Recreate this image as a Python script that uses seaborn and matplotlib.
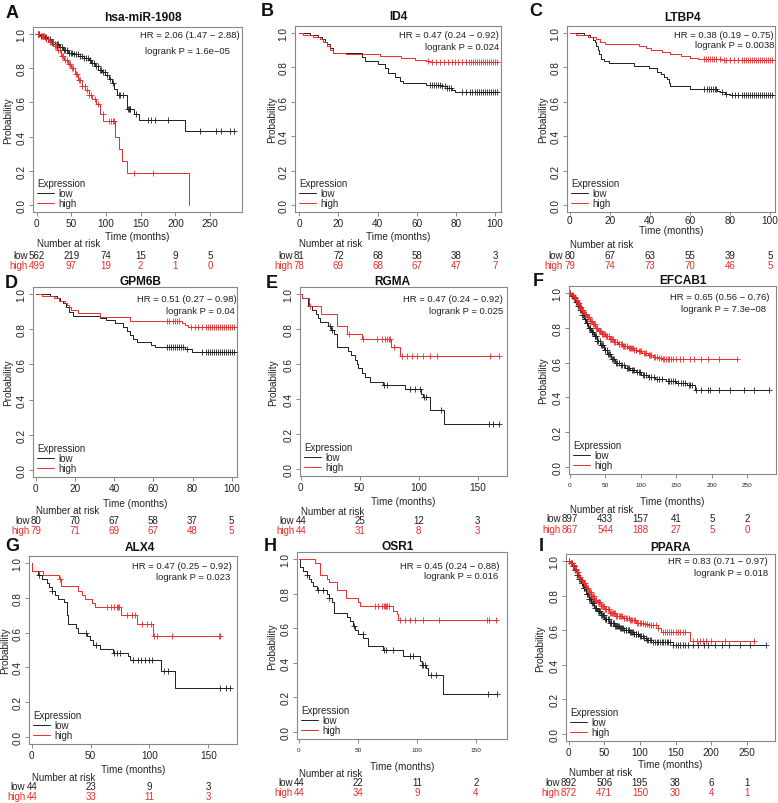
# ============================================================
# km_panels.py — Kaplan-Meier survival, 9 candidate genes
# ============================================================
# 3x3 grid, each panel: low vs high expression step curves,
# censor ticks, HR / logrank text and a number-at-risk table.

import numpy as np
import matplotlib
matplotlib.use("Agg")
import matplotlib.pyplot as plt
import seaborn as sns
from matplotlib.lines import Line2D
from matplotlib.transforms import blended_transform_factory

# ---------------- A  hsa-miR-1908 ----------------
a_low_t = [0, 5, 10, 15, 20, 26, 32, 38, 45, 52, 60, 68, 75, 79, 84, 89, 94, 99, 104, 108, 112, 116, 130, 141, 148, 214, 285]
a_low_s = [1.0, 0.99, 0.98, 0.97, 0.955, 0.94, 0.925, 0.905, 0.89, 0.88, 0.868, 0.858, 0.85, 0.83, 0.81, 0.79, 0.775, 0.76, 0.735, 0.715, 0.68, 0.645, 0.56, 0.535, 0.495, 0.435, 0.435]
a_low_cens = [2, 4, 6, 9, 12, 14, 17, 19, 22, 24, 27, 29, 31, 34, 36, 39, 41, 44, 46, 49, 51, 54, 56, 59, 62, 65, 68, 71, 74, 77,
              80, 83, 86, 88, 91, 93, 96, 98, 101, 105, 110, 118, 120, 124, 132, 133, 134, 135, 143, 161, 165, 170, 189, 235, 258, 266, 278, 285]
a_high_t = [0, 6, 12, 18, 24, 30, 35, 40, 45, 50, 55, 60, 65, 70, 75, 80, 86, 91, 96, 113, 118, 123, 130, 219]
a_high_s = [1.0, 0.985, 0.97, 0.95, 0.93, 0.905, 0.87, 0.85, 0.825, 0.80, 0.765, 0.73, 0.695, 0.67, 0.645, 0.62, 0.59, 0.53, 0.49, 0.40, 0.33, 0.26, 0.19, 0.0]
a_high_cens = [2, 4, 7, 9, 11, 14, 16, 19, 21, 23, 26, 28, 31, 33, 36, 38, 41, 43, 46, 48, 51, 53, 56, 58, 61, 63, 66, 69, 72, 75,
               78, 84, 88, 95, 104, 107, 110, 112, 140, 168]
a_risk_t = [0, 50, 100, 150, 200, 250]
a_risk_low = [562, 219, 74, 15, 9, 5]
a_risk_high = [499, 97, 19, 2, 1, 0]

# ---------------- B  ID4 ----------------
b_low_t = [0, 5.5, 9.7, 11.4, 13, 14, 15.7, 17.4, 32, 33.6, 40, 43.8, 45.5, 49, 51.5, 53, 65, 72.7, 75.5, 78, 79.5, 102]
b_low_s = [1.0, 0.987, 0.975, 0.962, 0.95, 0.937, 0.911, 0.886, 0.861, 0.835, 0.82, 0.795, 0.77, 0.745, 0.72, 0.71, 0.70, 0.69, 0.68, 0.667, 0.655, 0.655]
b_low_cens = [67, 68, 69, 70, 71, 72, 73, 74.5, 75.5, 76.5, 77.5, 83, 85, 87, 88.5, 90, 91, 92, 93, 94, 95, 96, 97, 98, 99, 100, 101]
b_high_t = [0, 2, 7, 10.5, 12.3, 14, 15.7, 17.4, 24, 41, 52, 59, 65, 67, 102]
b_high_s = [1.0, 0.987, 0.975, 0.962, 0.95, 0.925, 0.90, 0.885, 0.877, 0.867, 0.855, 0.845, 0.835, 0.83, 0.83]
b_high_cens = [66, 68, 70, 72, 74, 76, 78, 79.5, 81, 83, 85, 86.5, 88, 89, 90, 91, 92, 93, 94, 95, 96, 97, 98, 99, 100, 101]
b_risk_t = [0, 20, 40, 60, 80, 100]
b_risk_low = [81, 72, 68, 58, 38, 3]
b_risk_high = [78, 69, 68, 67, 47, 7]

# ---------------- C  LTBP4 ----------------
c_low_t = [0, 7.4, 10, 11.6, 12.7, 13.2, 14, 14.9, 15.7, 17, 19.8, 32, 39.7, 43.8, 45.5, 47, 48.5, 49.6, 50.4, 60.3, 73.5, 75.2, 77.7, 80, 102]
c_low_s = [1.0, 0.99, 0.975, 0.96, 0.945, 0.925, 0.90, 0.875, 0.85, 0.837, 0.825, 0.81, 0.795, 0.775, 0.76, 0.745, 0.73, 0.71, 0.69, 0.677, 0.665, 0.655, 0.645, 0.64, 0.64]
c_low_cens = [67, 68.5, 69.5, 70.5, 71.5, 72.5, 73, 76, 78, 81, 82.5, 84, 86, 87, 88, 89, 90, 91, 92, 93, 94, 95, 96, 97, 98, 99, 100, 101]
c_high_t = [0, 3, 9, 13, 15, 17.7, 34.7, 38, 40.5, 46, 50, 55.5, 60, 64, 76, 102]
c_high_s = [1.0, 0.987, 0.975, 0.962, 0.95, 0.937, 0.925, 0.912, 0.90, 0.887, 0.875, 0.865, 0.857, 0.85, 0.843, 0.843]
c_high_cens = [67, 68, 69, 70, 71, 72, 73, 75, 77, 78, 80, 82, 84, 86, 87, 88, 89, 90, 91, 92, 93, 94, 95, 96, 97, 98, 99, 100, 101]
c_risk_t = [0, 20, 40, 60, 80, 100]
c_risk_low = [80, 67, 63, 55, 39, 5]
c_risk_high = [79, 74, 73, 70, 46, 5]

# ---------------- D  GPM6B ----------------
d_low_t = [0, 7.2, 11, 12.5, 14, 15.5, 17, 18.7, 32.7, 36, 40.4, 44.6, 46.3, 48, 49.7, 51.4, 59, 60.8, 76, 79.5, 102]
d_low_s = [1.0, 0.987, 0.975, 0.962, 0.95, 0.925, 0.90, 0.875, 0.862, 0.85, 0.835, 0.81, 0.79, 0.77, 0.745, 0.725, 0.71, 0.70, 0.69, 0.673, 0.673]
d_low_cens = [67, 68, 69, 70, 71, 72, 73, 74, 75, 77, 85, 87, 88, 89, 90, 91, 92, 93, 94, 95, 96, 97, 98, 99, 100, 101]
d_high_t = [0, 3, 9, 12, 14.8, 16, 17, 18, 21.6, 32.7, 48, 74.4, 76, 77.5, 102]
d_high_s = [1.0, 0.987, 0.975, 0.962, 0.95, 0.937, 0.925, 0.91, 0.895, 0.87, 0.847, 0.835, 0.822, 0.815, 0.815]
d_high_cens = [67, 68, 70, 71, 72, 73, 79, 81, 83, 85, 87, 88, 89, 90, 91, 92, 93, 94, 95, 96, 97, 98, 99, 100, 101]
d_risk_t = [0, 20, 40, 60, 80, 100]
d_risk_low = [80, 70, 67, 58, 37, 5]
d_risk_high = [79, 71, 69, 67, 48, 5]

# ---------------- E  RGMA ----------------
e_low_t = [0, 1, 6.5, 10, 13, 15, 16.5, 23.5, 26, 28, 30.5, 31, 40.5, 43, 46, 47.5, 49, 52, 54.6, 59, 70, 88.6, 102, 104, 110, 121.7, 168]
e_low_s = [1.0, 0.977, 0.932, 0.909, 0.886, 0.864, 0.841, 0.818, 0.795, 0.773, 0.75, 0.70, 0.675, 0.65, 0.625, 0.60, 0.575, 0.55, 0.525, 0.50, 0.48, 0.455, 0.43, 0.41, 0.34, 0.255, 0.255]
e_low_cens = [24.5, 26.5, 71, 73, 93, 97, 101, 104.5, 106, 119, 160, 163, 168]
e_high_t = [0, 1, 7.4, 17.3, 31, 39.6, 51.8, 77, 84, 168]
e_high_s = [1.0, 0.977, 0.932, 0.886, 0.818, 0.773, 0.745, 0.70, 0.645, 0.645]
e_high_cens = [8, 41, 53, 64.5, 69, 71.5, 73, 74.5, 76, 79, 86, 90, 94, 98.5, 104, 110, 116, 161, 168]
e_risk_t = [0, 50, 100, 150]
e_risk_low = [44, 25, 12, 3]
e_risk_high = [44, 31, 8, 3]

# ---------------- F  EFCAB1 ----------------
f_low_t = [0, 2, 5, 8, 11, 14, 17, 20, 23, 26, 30, 34, 38, 43, 48, 53, 58, 64, 70, 78, 85, 93, 100, 110, 120, 135, 150, 165, 176, 280]
f_low_s = [1.0, 0.985, 0.97, 0.95, 0.925, 0.90, 0.875, 0.85, 0.825, 0.80, 0.775, 0.75, 0.725, 0.70, 0.675, 0.65, 0.62, 0.60, 0.585, 0.57, 0.56, 0.545, 0.53, 0.52, 0.505, 0.495, 0.485, 0.47, 0.445, 0.445]
f_low_cens = [1, 3, 4, 6, 7, 9, 10, 12, 13, 15, 16, 18, 19, 21, 22, 24, 25, 27, 28, 29, 31, 32, 33, 35, 36, 37, 39, 40, 42, 44,
              45, 47, 49, 50, 52, 54, 56, 57, 59, 61, 63, 65, 67, 69, 72, 74, 76, 80, 82, 84, 87, 89, 91, 95, 97, 99, 103, 105,
              107, 112, 115, 118, 123, 126, 130, 138, 140, 142, 146, 148, 152, 156, 160, 163, 168, 170, 172, 178, 185, 195,
              197, 210, 225, 245, 260, 280]
f_high_t = [0, 2, 5, 8, 11, 14, 17, 20, 24, 28, 32, 36, 40, 45, 50, 56, 62, 68, 74, 82, 90, 96, 102, 110, 117, 124, 130, 237]
f_high_s = [1.0, 0.99, 0.975, 0.96, 0.94, 0.92, 0.90, 0.88, 0.86, 0.84, 0.82, 0.80, 0.78, 0.765, 0.75, 0.735, 0.72, 0.705, 0.695, 0.685, 0.675, 0.665, 0.655, 0.645, 0.635, 0.628, 0.622, 0.622]
f_high_cens = [1, 3, 4, 6, 7, 9, 10, 12, 13, 15, 16, 18, 19, 21, 22, 23, 25, 26, 27, 29, 30, 31, 33, 34, 35, 37, 38, 39, 41, 42,
               43, 44, 46, 47, 48, 49, 51, 52, 53, 55, 57, 58, 60, 61, 63, 64, 66, 67, 69, 70, 72, 73, 75, 77, 78, 80, 81, 83,
               85, 86, 88, 89, 91, 93, 94, 97, 99, 101, 104, 106, 108, 111, 113, 115, 118, 120, 123, 126, 129, 131, 133, 136,
               138, 140, 142, 145, 150, 155, 160, 170, 175, 185, 195, 210, 235]
f_risk_t = [0, 50, 100, 150, 200, 250]
f_risk_low = [897, 433, 157, 41, 5, 2]
f_risk_high = [867, 544, 188, 27, 5, 0]

# ---------------- G  ALX4 ----------------
g_low_t = [0, 0.5, 5.7, 8.5, 12.7, 15, 17, 19.8, 22.6, 27, 29.7, 30.3, 31, 38, 39.6, 47, 49.5, 52, 58, 69, 82, 83.5, 110, 121.7, 168]
g_low_s = [1.0, 0.955, 0.932, 0.909, 0.886, 0.864, 0.841, 0.818, 0.795, 0.773, 0.75, 0.70, 0.65, 0.625, 0.60, 0.58, 0.555, 0.53, 0.505, 0.48, 0.465, 0.44, 0.38, 0.28, 0.28]
g_low_cens = [6, 17, 46, 55, 70, 72, 75, 86, 90, 93, 96, 100, 102, 112, 116, 160, 165, 168]
g_high_t = [0, 0.5, 10, 23.5, 25, 39.6, 42.5, 45, 51, 54, 76, 89, 102.7, 160]
g_high_s = [1.0, 0.955, 0.932, 0.909, 0.866, 0.84, 0.818, 0.795, 0.77, 0.745, 0.70, 0.65, 0.58, 0.58]
g_high_cens = [24, 64, 67, 70, 72, 73, 74, 81, 85, 88, 94, 98, 101, 104, 106, 119, 159, 160]
g_risk_t = [0, 50, 100, 150]
g_risk_low = [44, 23, 9, 3]
g_risk_high = [44, 33, 11, 3]

# ---------------- H  OSR1 ----------------
h_low_t = [0, 0.5, 3, 6.5, 8.8, 10, 12, 15, 23.4, 25, 27.7, 29.7, 40.4, 43, 46, 47.5, 50, 54.5, 58.8, 71, 88.4, 102.5, 104, 108, 109, 121.8, 168]
h_low_s = [1.0, 0.955, 0.932, 0.909, 0.886, 0.864, 0.841, 0.818, 0.795, 0.773, 0.75, 0.69, 0.665, 0.64, 0.615, 0.59, 0.565, 0.545, 0.50, 0.475, 0.44, 0.41, 0.39, 0.37, 0.33, 0.22, 0.22]
h_low_cens = [7, 16, 20, 25.5, 46.5, 54, 72, 74, 80, 94, 97, 104.5, 105.5, 106.5, 112, 116, 160, 168]
h_high_t = [0, 13.5, 17.8, 23.4, 25, 32, 40, 50, 51.7, 80, 82.8, 84, 168]
h_high_s = [1.0, 0.977, 0.909, 0.886, 0.864, 0.818, 0.773, 0.75, 0.727, 0.70, 0.68, 0.645, 0.645]
h_high_cens = [64, 67, 70, 72, 73, 74, 75, 76, 86, 90, 94, 98, 105, 119, 159, 161, 167]
h_risk_t = [0, 50, 100, 150]
h_risk_low = [44, 22, 11, 2]
h_risk_high = [44, 34, 9, 4]

# ---------------- I  PPARA ----------------
i_low_t = [0, 2, 5, 8, 11, 14, 17, 20, 24, 28, 32, 36, 40, 45, 50, 57, 64, 71, 78, 85, 92, 99, 105, 110, 118, 146, 277]
i_low_s = [1.0, 0.99, 0.97, 0.945, 0.92, 0.895, 0.87, 0.845, 0.81, 0.78, 0.755, 0.73, 0.71, 0.685, 0.665, 0.64, 0.625, 0.61, 0.60, 0.59, 0.58, 0.565, 0.555, 0.545, 0.534, 0.515, 0.515]
i_low_cens = [1, 3, 4, 6, 7, 9, 10, 12, 13, 15, 16, 18, 19, 21, 22, 23, 25, 26, 27, 29, 30, 31, 33, 34, 35, 37, 38, 39, 41, 42,
              43, 44, 46, 47, 48, 49, 51, 52, 53, 55, 56, 58, 59, 60, 62, 63, 65, 66, 68, 69, 70, 72, 73, 75, 76, 78, 80, 81,
              83, 84, 86, 88, 89, 90, 92, 94, 95, 97, 98, 100, 102, 104, 106, 108, 110, 112, 114, 116, 119, 121, 124, 126,
              128, 131, 133, 135, 138, 140, 142, 147, 150, 153, 156, 160, 163, 168, 175, 182, 190, 195, 205, 215, 225, 240,
              255, 277]
i_high_t = [0, 2, 5, 8, 11, 14, 17, 20, 24, 28, 32, 36, 40, 45, 50, 57, 66, 76, 85, 94.6, 105, 113, 125, 129.6, 170, 261]
i_high_s = [1.0, 0.99, 0.975, 0.955, 0.935, 0.91, 0.89, 0.87, 0.845, 0.82, 0.795, 0.775, 0.76, 0.74, 0.725, 0.70, 0.68, 0.67, 0.66, 0.64, 0.635, 0.63, 0.61, 0.592, 0.54, 0.54]
i_high_cens = [1, 3, 4, 6, 7, 9, 10, 12, 13, 15, 16, 18, 19, 21, 22, 23, 25, 26, 27, 29, 30, 31, 33, 34, 35, 37, 38, 39, 41, 42,
               43, 44, 46, 47, 48, 49, 51, 52, 53, 55, 56, 58, 59, 61, 62, 64, 65, 67, 68, 70, 72, 73, 75, 77, 78, 80, 82, 84,
               86, 87, 89, 91, 93, 96, 98, 100, 102, 104, 107, 110, 113, 116, 119, 122, 126, 132, 135, 138, 141, 144, 147, 150,
               153, 156, 160, 163, 175, 180, 185, 188, 193, 200, 220, 260]
i_risk_t = [0, 50, 100, 150, 200, 250]
i_risk_low = [892, 506, 195, 38, 6, 1]
i_risk_high = [872, 471, 150, 30, 4, 1]

# ------------------------------------------------------------
W, H = 778, 804
LOW_C = "#1e1e1e"
HIGH_C = "#ee2a2a"
TXT = "#222222"

# layout in pixels: axes box (l, t, r, b), xlim, x ticks, and where
# the text blocks sit (titles, HR text, risk table rows)
PANELS = [
    dict(letter="A", title="hsa-miR-1908", box=(33, 28, 242, 213), xlim=(-5.3, 296), xt=a_risk_t,
         low=(a_low_t, a_low_s, a_low_cens), high=(a_high_t, a_high_s, a_high_cens),
         risk=(a_risk_t, a_risk_low, a_risk_high), hr="HR = 2.06 (1.47 \u2212 2.88)", p="logrank P = 1.6e\u221205",
         hr_pos=(240, 35, 230, 52), letter_pos=(12, 13), title_pos=(143, 18),
         time_y=237, rows=(244, 256, 266), ylab_x=8),
    dict(letter="B", title="ID4", box=(295, 27, 501, 213), xlim=(-2.2, 103.1), xt=b_risk_t,
         low=(b_low_t, b_low_s, b_low_cens), high=(b_high_t, b_high_s, b_high_cens),
         risk=(b_risk_t, b_risk_low, b_risk_high), hr="HR = 0.47 (0.24 \u2212 0.92)", p="logrank P = 0.024",
         hr_pos=(499, 35, 499, 48), letter_pos=(267, 12), title_pos=(398, 17),
         time_y=237, rows=(244, 256, 266), ylab_x=272),
    dict(letter="C", title="LTBP4", box=(567, 27, 775, 213), xlim=(-1.3, 102.6), xt=c_risk_t,
         low=(c_low_t, c_low_s, c_low_cens), high=(c_high_t, c_high_s, c_high_cens),
         risk=(c_risk_t, c_risk_low, c_risk_high), hr="HR = 0.38 (0.19 \u2212 0.75)", p="logrank P = 0.0038",
         hr_pos=(774, 35, 774, 45), letter_pos=(536, 12), title_pos=(683, 18),
         time_y=231, rows=(245, 256, 266), ylab_x=543, tight_x=True),
    dict(letter="D", title="GPM6B", box=(33, 288, 237, 478), xlim=(-1.5, 102.7), xt=d_risk_t,
         low=(d_low_t, d_low_s, d_low_cens), high=(d_high_t, d_high_s, d_high_cens),
         risk=(d_risk_t, d_risk_low, d_risk_high), hr="HR = 0.51 (0.27 \u2212 0.98)", p="logrank P = 0.04",
         hr_pos=(237, 300, 235, 312), letter_pos=(11, 283), title_pos=(140, 282),
         time_y=504, rows=(511, 521, 531), ylab_x=8),
    dict(letter="E", title="RGMA", box=(300, 288, 507, 477), xlim=(-0.6, 175), xt=e_risk_t,
         low=(e_low_t, e_low_s, e_low_cens), high=(e_high_t, e_high_s, e_high_cens),
         risk=(e_risk_t, e_risk_low, e_risk_high), hr="HR = 0.47 (0.24 \u2212 0.92)", p="logrank P = 0.025",
         hr_pos=(503, 300, 503, 312), letter_pos=(272, 283), title_pos=(392, 282),
         time_y=502, rows=(512, 521, 531), ylab_x=273),
    dict(letter="F", title="EFCAB1", box=(569, 287, 776, 475), xlim=(-1, 290.4), xt=f_risk_t,
         low=(f_low_t, f_low_s, f_low_cens), high=(f_high_t, f_high_s, f_high_cens),
         risk=(f_risk_t, f_risk_low, f_risk_high), hr="HR = 0.65 (0.56 \u2212 0.76)", p="logrank P = 7.3e\u221208",
         hr_pos=(770, 298, 766, 310), letter_pos=(538, 281), title_pos=(683, 281),
         time_y=502, rows=(510, 519, 530), ylab_x=543, small_x=True),
    dict(letter="G", title="ALX4", box=(29, 557, 237, 745), xlim=(-2.3, 174.3), xt=g_risk_t,
         low=(g_low_t, g_low_s, g_low_cens), high=(g_high_t, g_high_s, g_high_cens),
         risk=(g_risk_t, g_risk_low, g_risk_high), hr="HR = 0.47 (0.25 \u2212 0.92)", p="logrank P = 0.023",
         hr_pos=(232, 567, 230, 578), letter_pos=(12, 547), title_pos=(140, 548),
         time_y=770, rows=(778, 787, 797), ylab_x=5),
    dict(letter="H", title="OSR1", box=(297, 553, 507, 740), xlim=(-1.7, 176.3), xt=h_risk_t,
         low=(h_low_t, h_low_s, h_low_cens), high=(h_high_t, h_high_s, h_high_cens),
         risk=(h_risk_t, h_risk_low, h_risk_high), hr="HR = 0.45 (0.24 \u2212 0.88)", p="logrank P = 0.016",
         hr_pos=(500, 567, 498, 577), letter_pos=(270, 547), title_pos=(398, 547),
         time_y=767, rows=(774, 783, 793), ylab_x=272, small_x=True),
    dict(letter="I", title="PPARA", box=(566, 555, 775, 742), xlim=(-3.8, 289.7), xt=i_risk_t,
         low=(i_low_t, i_low_s, i_low_cens), high=(i_high_t, i_high_s, i_high_cens),
         risk=(i_risk_t, i_risk_low, i_risk_high), hr="HR = 0.83 (0.71 \u2212 0.97)", p="logrank P = 0.018",
         hr_pos=(768, 562, 768, 574), letter_pos=(541, 547), title_pos=(671, 548),
         time_y=765, rows=(773, 783, 793), ylab_x=540),
]


def fy(py):
    return 1 - py / H


def surv_at(t, s, c):
    # value of the step function at censoring times
    idx = np.searchsorted(np.asarray(t), np.asarray(c), side="right") - 1
    return np.asarray(s)[idx]


def draw_curve(ax, t, s, cens, color):
    sns.lineplot(x=t, y=s, drawstyle="steps-post", estimator=None, sort=False,
                 color=color, linewidth=0.7, ax=ax)
    sns.scatterplot(x=cens, y=surv_at(t, s, cens), marker="+", color=color,
                    s=14, linewidth=0.6, ax=ax, legend=False, zorder=3)


def draw_panel(fig, p):
    l, t, r, b = p["box"]
    ax = fig.add_axes([l / W, fy(b), (r - l) / W, (b - t) / H])

    draw_curve(ax, *p["low"], LOW_C)
    draw_curve(ax, *p["high"], HIGH_C)

    ax.set_xlim(*p["xlim"])
    ax.set_ylim(-0.04, 1.04)
    ax.set_xticks(p["xt"])
    ax.set_xticklabels([str(v) for v in p["xt"]])
    ax.set_yticks([0, 0.2, 0.4, 0.6, 0.8, 1.0])
    ax.set_yticklabels(["0.0", "0.2", "0.4", "0.6", "0.8", "1.0"],
                       rotation=90, va="center")
    ax.tick_params(axis="both", length=3, width=0.6, color="#777777",
                   pad=1.5, labelsize=7.2, labelcolor=TXT)
    if p.get("small_x"):
        ax.tick_params(axis="x", labelsize=4.6, pad=2.5)
    if p.get("tight_x"):
        ax.tick_params(axis="x", length=2, pad=0.3)
    ax.set_xlabel("")
    ax.set_ylabel("")
    for sp in ax.spines.values():
        sp.set_visible(True)
        sp.set_color("#888888")
        sp.set_linewidth(0.8)

    # legend, bottom left
    handles = [Line2D([], [], color=LOW_C, lw=0.7), Line2D([], [], color=HIGH_C, lw=0.7)]
    ax.legend(handles, ["low", "high"], title="Expression", loc="lower left",
              frameon=False, fontsize=7, title_fontsize=7, alignment="left",
              handlelength=1.8, handletextpad=0.4, labelspacing=0.0,
              borderaxespad=0.2, borderpad=0.2)

    # HR / logrank
    x1, y1, x2, y2 = p["hr_pos"]
    fig.text(x1 / W, fy(y1), p["hr"], ha="right", va="center", fontsize=6.8, color=TXT)
    fig.text(x2 / W, fy(y2), p["p"], ha="right", va="center", fontsize=6.8, color=TXT)

    # titles, letters, axis labels
    lx, ly = p["letter_pos"]
    fig.text(lx / W, fy(ly), p["letter"], ha="center", va="center",
             fontsize=13, fontweight="bold", color="#111111")
    tx, ty = p["title_pos"]
    fig.text(tx / W, fy(ty), p["title"], ha="center", va="center",
             fontsize=8.6, fontweight="bold", color="#111111")
    fig.text(p["ylab_x"] / W, fy((t + b) / 2), "Probability", rotation=90,
             ha="center", va="center", fontsize=7.2, color=TXT)
    fig.text((l + r) / 2 / W, fy(p["time_y"]), "Time (months)",
             ha="center", va="center", fontsize=7.2, color=TXT)

    # number at risk table
    trans = blended_transform_factory(ax.transData, fig.transFigure)
    rt, rlow, rhigh = p["risk"]
    y_head, y_low, y_high = p["rows"]
    ax.text(0, fy(y_head), "Number at risk", transform=trans, ha="left",
            va="center", fontsize=7, color=TXT)
    for tk, nl, nh in zip(rt, rlow, rhigh):
        ax.text(tk, fy(y_low), str(nl), transform=trans, ha="center",
                va="center", fontsize=7, color=LOW_C)
        ax.text(tk, fy(y_high), str(nh), transform=trans, ha="center",
                va="center", fontsize=7, color=HIGH_C)
    for lab, n, yy, col in [("low", rlow[0], y_low, LOW_C), ("high", rhigh[0], y_high, HIGH_C)]:
        off = len(str(n)) * 3.9 / 2 + 0.8
        ax.annotate(lab, xy=(0, fy(yy)), xycoords=trans, xytext=(-off, 0),
                    textcoords="offset points", ha="right", va="center",
                    fontsize=7, color=col)
    return ax


sns.set_theme(style="ticks")
plt.rcParams["font.family"] = ["Liberation Sans", "DejaVu Sans"]

fig = plt.figure(figsize=(W / 100, H / 100), dpi=100)
fig.patch.set_facecolor("white")
for p in PANELS:
    draw_panel(fig, p)

fig.savefig("out.png", dpi=100, facecolor="white")
plt.close(fig)
